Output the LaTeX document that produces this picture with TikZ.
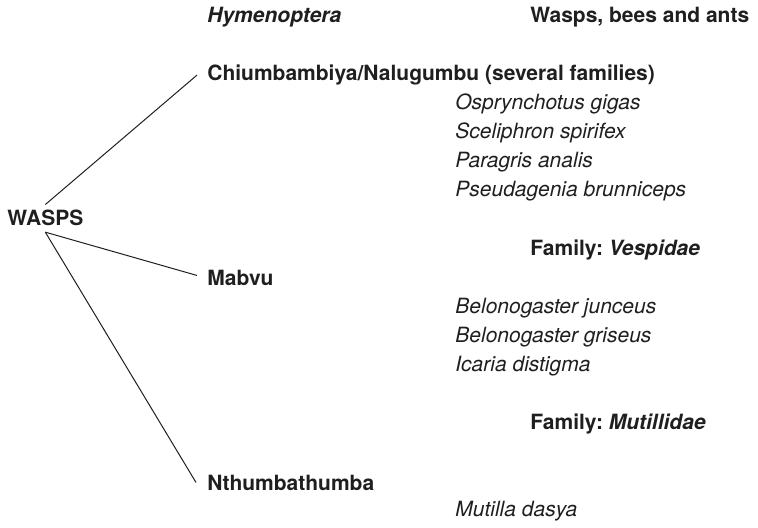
\documentclass[tikz,border=0pt]{standalone}
\usepackage{fontspec}
\setmainfont{TeX Gyre Heros}
\usepackage{tikz}
\frenchspacing
\tikzset{
  every node/.style={inner sep=0pt, anchor=base west, text=black!88},
  common/.style={font=\fontsize{10.5}{12}\selectfont\bfseries},
  latin/.style={font=\fontsize{10.5}{12}\selectfont\itshape},
  spoke/.style={draw=black!88, line width=.5pt},
}

\begin{document}
\begin{tikzpicture}[x=.5pt, y=-.5pt]
    \useasboundingbox (0,0) rectangle (758,527);

    % header line
    \node[common] (order) at (207,22.5) {\textit{Hymenoptera}};
    \node[common] (engl) at (530,22.5) {Wasps, bees and ants};

    % root and the three local names
    \node[common] (wasps) at (7,225.5) {WASPS};
    \node[common] (chium) at (207,80.6) {Chiumbambiya/Nalugumbu (several families)};
    \node[common] (mabvu) at (207,285) {Mabvu};
    \node[common] (nthu) at (207,490) {Nthumbathumba};

    %% species lists
    \foreach \sp [count=\i] in {Osprynchotus gigas, Sceliphron spirifex, Paragris analis, Pseudagenia brunniceps}
        \node[latin] (chsp\i) at (455,80.6+29.06*\i) {\sp};

    \node[common] (vesp) at (530,255) {Family: \textit{Vespidae}};
    \foreach \sp [count=\i] in {Belonogaster junceus, Belonogaster griseus, Icaria distigma}
        \node[latin] (mbsp\i) at (455,284+29.06*\i) {\sp};

    \node[common] (mutil) at (530,429.3) {Family: \textit{Mutillidae}};
    \node[latin] (ntsp1) at (455,516.5) {Mutilla dasya};

    % the spokes, stopping short of each name
    \draw[spoke] ([yshift=2.5pt]wasps.north) -- ([xshift=-5pt]chium.west);
    \draw[spoke] ([yshift=-3pt]wasps.south) -- ([xshift=-5pt,yshift=1pt]mabvu.west);
    \draw[spoke] ([yshift=-3pt]wasps.south) -- ([xshift=-5.5pt]nthu.west);
\end{tikzpicture}
\end{document}
